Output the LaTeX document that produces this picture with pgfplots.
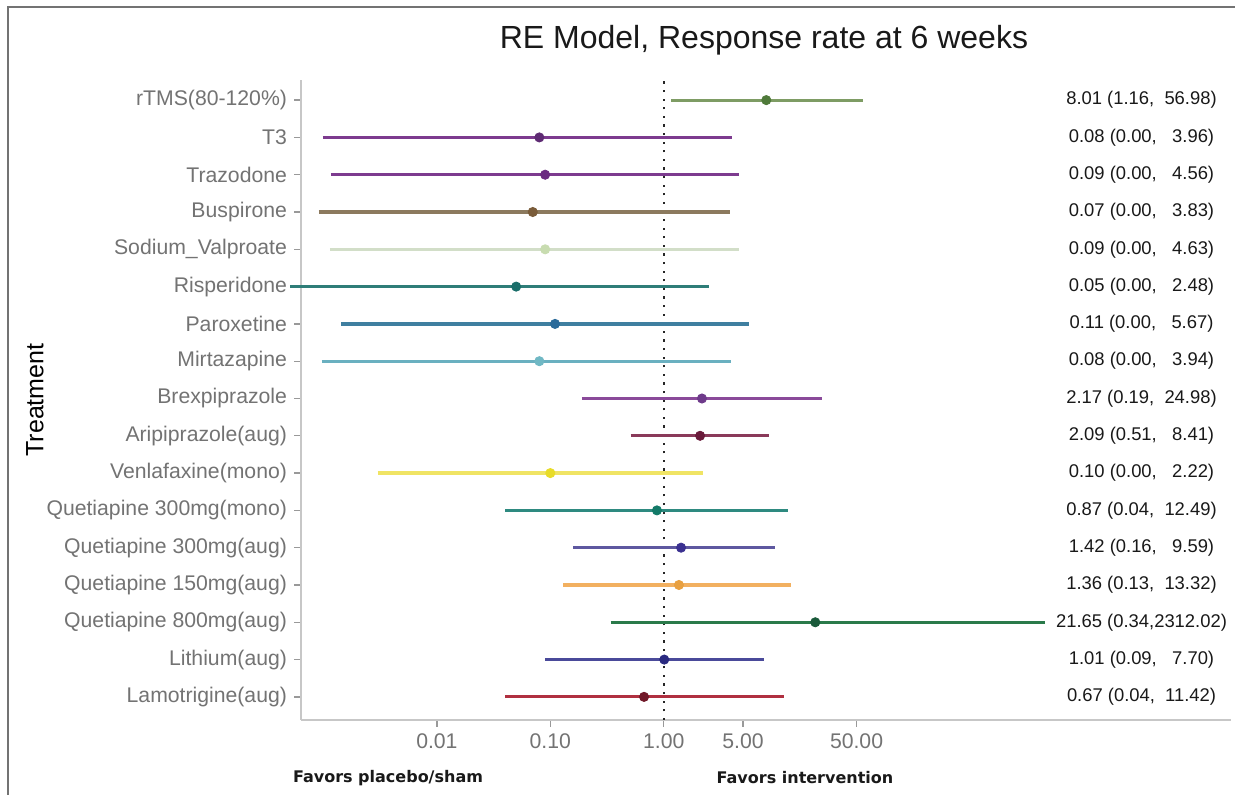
\documentclass[border=0pt]{standalone}
\usepackage{fontspec}
\setmainfont{Liberation Sans}
\newfontfamily\favfont{DejaVu Sans}
\usepackage{pgfplots}
\pgfplotsset{compat=1.18}

\definecolor{lrtms}{HTML}{7E9C64}\definecolor{prtms}{HTML}{4F7A3A}
\definecolor{lt3}{HTML}{7D3B8F}\definecolor{pt3}{HTML}{5E2A73}
\definecolor{ltra}{HTML}{7D3B8F}\definecolor{ptra}{HTML}{6A2A80}
\definecolor{lbus}{HTML}{8C7A5E}\definecolor{pbus}{HTML}{7A5C3A}
\definecolor{lsod}{HTML}{D2DEC8}\definecolor{psod}{HTML}{C8DCB0}
\definecolor{lris}{HTML}{2E7D78}\definecolor{pris}{HTML}{1A6E6A}
\definecolor{lpar}{HTML}{3F7FA0}\definecolor{ppar}{HTML}{2A6A9A}
\definecolor{lmir}{HTML}{6AB0C0}\definecolor{pmir}{HTML}{70B8C4}
\definecolor{lbre}{HTML}{8A4A9A}\definecolor{pbre}{HTML}{6E3A8A}
\definecolor{lari}{HTML}{8A3A5A}\definecolor{pari}{HTML}{6A1A3A}
\definecolor{lven}{HTML}{F0E464}\definecolor{pven}{HTML}{E8DC28}
\definecolor{lqmo}{HTML}{2E8A80}\definecolor{pqmo}{HTML}{137A68}
\definecolor{lqth}{HTML}{5E58A0}\definecolor{pqth}{HTML}{3A3090}
\definecolor{lqof}{HTML}{F2B060}\definecolor{pqof}{HTML}{E8A040}
\definecolor{lqei}{HTML}{2A7A4A}\definecolor{pqei}{HTML}{1A5A3A}
\definecolor{llit}{HTML}{4A4A9A}\definecolor{plit}{HTML}{2A2A80}
\definecolor{llam}{HTML}{B03040}\definecolor{plam}{HTML}{701828}

% y, lower, estimate, upper, line colour, point colour
\newcommand{\frow}[6]{%
  \addplot[draw=#5, line width=1.6pt, forget plot] coordinates {(#2,#1) (#4,#1)};
  \addplot[only marks, mark=*, mark size=2.3pt, draw=#6, fill=#6, forget plot] coordinates {(#3,#1)};
}
\newcommand{\ann}[2]{\node[font=\fontsize{9.2}{11}\selectfont, text=black!90] at (axis cs:16260,#1) {#2};}

\begin{document}
\begin{tikzpicture}
\useasboundingbox (0,0) rectangle (617.5pt,397.5pt);
\fill[white] (0,0) rectangle (617.5pt,397.5pt);
\draw[black!55, line width=1pt] (4pt,0) -- (4pt,394pt) -- (617.5pt,394pt);

\begin{axis}[
  at={(150.5pt,37.5pt)}, anchor=south west,
  width=465pt, height=320pt, scale only axis,
  xmode=log, xmin=6.34e-4, xmax=1e5, ymin=0.38, ymax=17.54,
  axis x line*=bottom, axis y line*=left,
  axis line style={-, draw=black!22, line width=0.7pt},
  xminorticks=false, yminorticks=false,
  tick align=outside, major tick length=3.5pt,
  tick style={black!40, line width=0.7pt},
  xtick={0.01,0.1,1,5,50},
  xticklabels={0.01,0.10,1.00,5.00,50.00},
  ytick={1,...,17},
  yticklabels={Lamotrigine(aug),Lithium(aug),Quetiapine 800mg(aug),Quetiapine 150mg(aug),Quetiapine 300mg(aug),Quetiapine 300mg(mono),Venlafaxine(mono),Aripiprazole(aug),Brexpiprazole,Mirtazapine,Paroxetine,Risperidone,Sodium\_Valproate,Buspirone,Trazodone,T3,rTMS(80-120\%)},
  ticklabel style={font=\fontsize{10.6}{12}\selectfont, text=black!55},
  clip=false,
]
\addplot[black!85, line width=1.1pt, dash pattern=on 1.1pt off 3.2pt, forget plot] coordinates {(1,0.38) (1,17.6)};

\frow{17}{1.16}{8.01}{56.98}{lrtms}{prtms}
\frow{16}{0.00099}{0.08}{3.96}{lt3}{pt3}
\frow{15}{0.00116}{0.09}{4.56}{ltra}{ptra}
\frow{14}{0.00091}{0.07}{3.83}{lbus}{pbus}
\frow{13}{0.00114}{0.09}{4.63}{lsod}{psod}
\frow{12}{0.00051}{0.05}{2.48}{lris}{pris}
\frow{11}{0.00143}{0.11}{5.67}{lpar}{ppar}
\frow{10}{0.00097}{0.08}{3.94}{lmir}{pmir}
\frow{9}{0.19}{2.17}{24.98}{lbre}{pbre}
\frow{8}{0.51}{2.09}{8.41}{lari}{pari}
\frow{7}{0.00302}{0.10}{2.22}{lven}{pven}
\frow{6}{0.04}{0.87}{12.49}{lqmo}{pqmo}
\frow{5}{0.16}{1.42}{9.59}{lqth}{pqth}
\frow{4}{0.13}{1.36}{13.32}{lqof}{pqof}
\frow{3}{0.34}{21.65}{2312.02}{lqei}{pqei}
\frow{2}{0.09}{1.01}{7.70}{llit}{plit}
\frow{1}{0.04}{0.67}{11.42}{llam}{plam}

\ann{17}{8.01 (1.16,~~56.98)}
\ann{16}{0.08 (0.00,~~~3.96)}
\ann{15}{0.09 (0.00,~~~4.56)}
\ann{14}{0.07 (0.00,~~~3.83)}
\ann{13}{0.09 (0.00,~~~4.63)}
\ann{12}{0.05 (0.00,~~~2.48)}
\ann{11}{0.11 (0.00,~~~5.67)}
\ann{10}{0.08 (0.00,~~~3.94)}
\ann{9}{2.17 (0.19,~~24.98)}
\ann{8}{2.09 (0.51,~~~8.41)}
\ann{7}{0.10 (0.00,~~~2.22)}
\ann{6}{0.87 (0.04,~~12.49)}
\ann{5}{1.42 (0.16,~~~9.59)}
\ann{4}{1.36 (0.13,~~13.32)}
\ann{3}{21.65 (0.34,2312.02)}
\ann{2}{1.01 (0.09,~~~7.70)}
\ann{1}{0.67 (0.04,~~11.42)}
\end{axis}

\node[font=\fontsize{16}{19}\selectfont, text=black!90] at (382pt,377.5pt) {RE Model, Response rate at 6 weeks};
\node[font=\fontsize{12.5}{15}\selectfont, rotate=90] at (17.5pt,197.5pt) {Treatment};
\node[font=\favfont\bfseries\fontsize{8}{10}\selectfont, text=black!90] at (194pt,8.5pt) {Favors placebo/sham};
\node[font=\favfont\bfseries\fontsize{8}{10}\selectfont, text=black!90] at (402.5pt,8.5pt) {Favors intervention};
\end{tikzpicture}
\end{document}
